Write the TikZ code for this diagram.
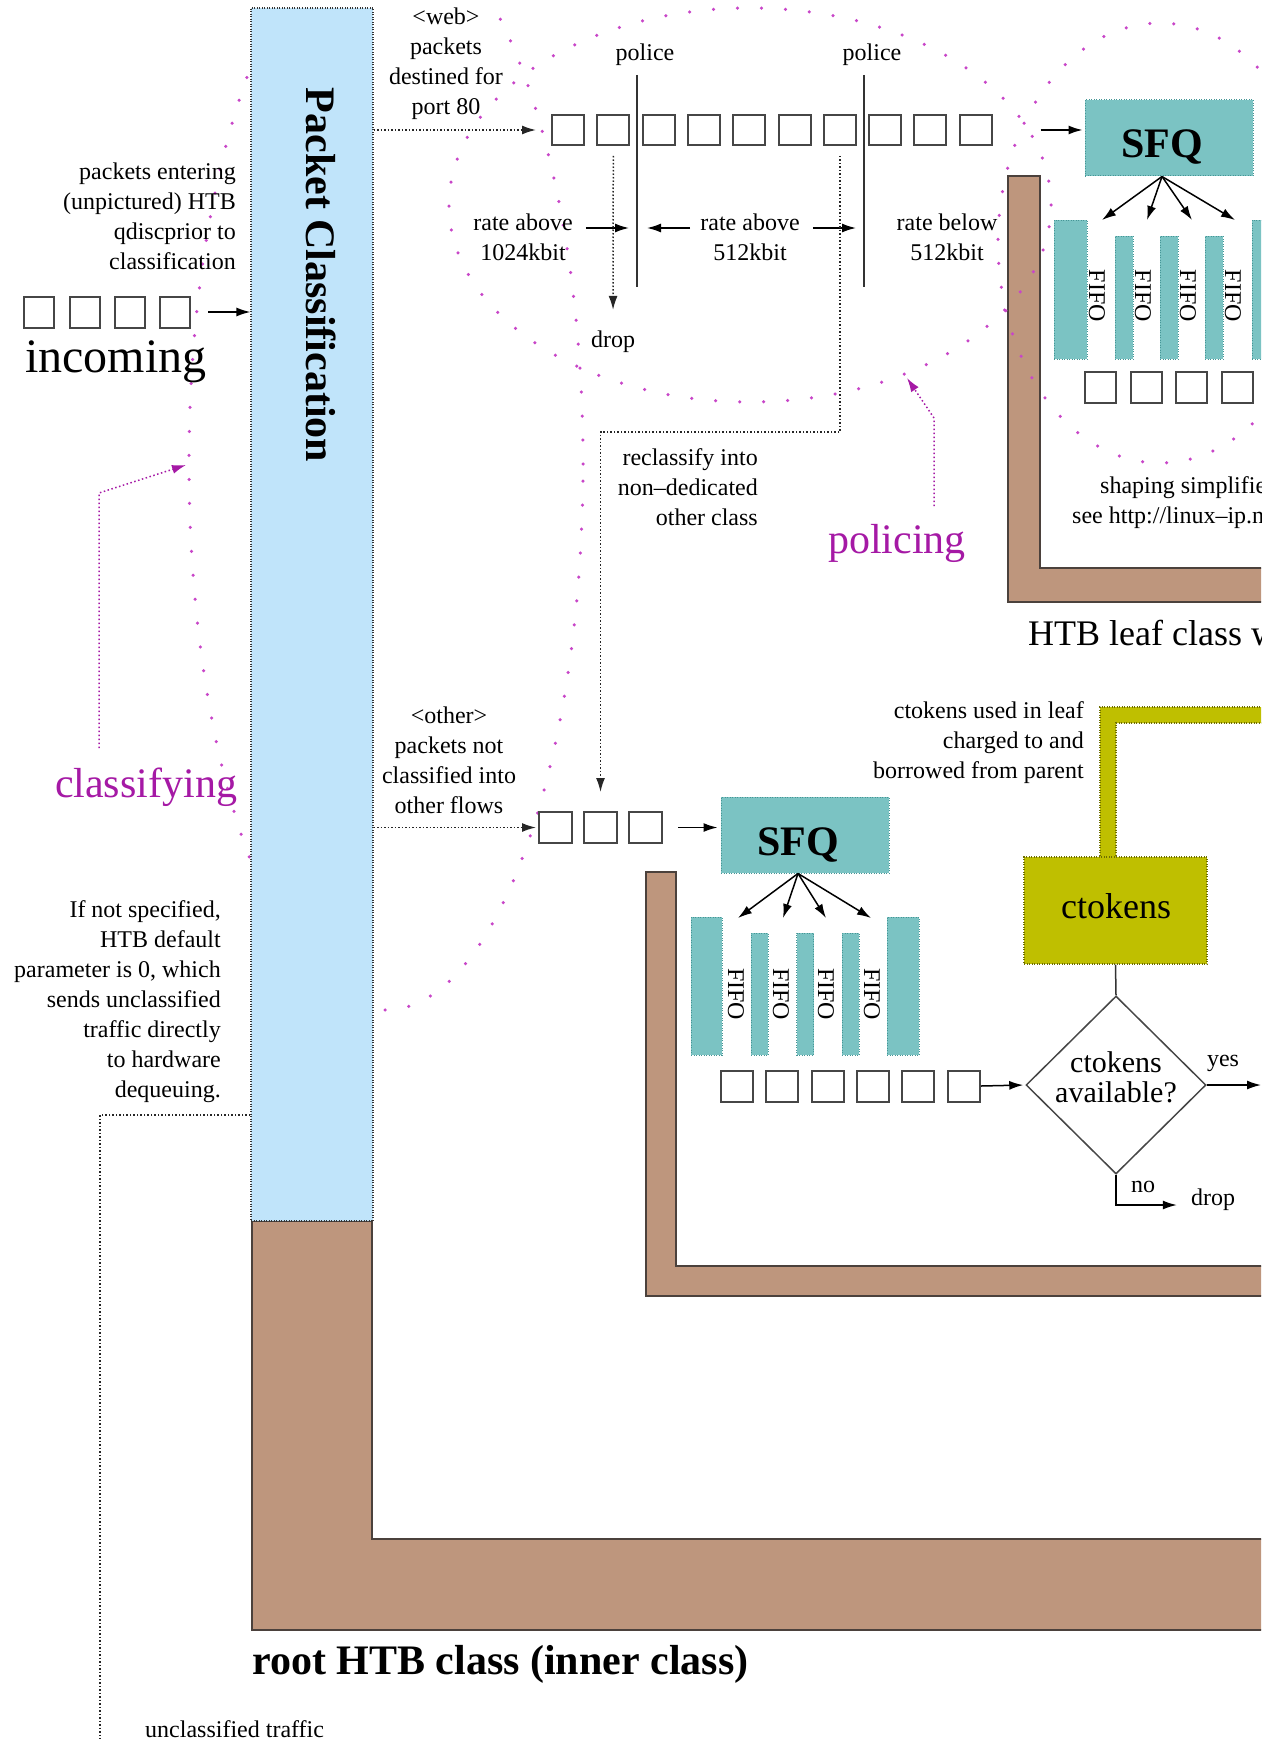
\documentclass[tikz,border=0pt]{standalone}
\usepackage{fontspec}
\setmainfont{Liberation Serif}
\usetikzlibrary{arrows.meta,shapes.geometric,calc}

\definecolor{clsblue}{RGB}{192,228,250}
\definecolor{htbbrown}{RGB}{190,150,125}
\definecolor{edgebrown}{RGB}{75,65,60}
\definecolor{sfqteal}{RGB}{123,195,195}
\definecolor{tealedge}{RGB}{70,150,150}
\definecolor{tokolive}{RGB}{191,191,0}
\definecolor{oliveedge}{RGB}{110,110,0}
\definecolor{dotmag}{RGB}{200,70,200}
\definecolor{labmag}{RGB}{165,25,165}
\definecolor{pktgray}{RGB}{70,70,70}

\begin{document}
\begin{tikzpicture}[x=1pt,y=-1pt,
  small/.style={inner sep=0pt, font=\fontsize{24}{30}\selectfont},
  mid/.style={inner sep=0pt, font=\fontsize{30}{30}\selectfont},
  big/.style={inner sep=0pt, font=\fontsize{36}{36}\selectfont},
  bigbold/.style={inner sep=0pt, font=\bfseries\fontsize{42}{42}\selectfont},
  maglabel/.style={inner sep=0pt, text=labmag, font=\fontsize{42}{42}\selectfont},
  pkt/.style={draw=pktgray, line width=2pt, fill=white, minimum width=32pt, minimum height=31pt, inner sep=0pt},
  fifo/.style={fill=sfqteal, draw=tealedge, line width=1pt, dash pattern=on 1pt off 1.5pt, inner sep=0pt},
  fifolab/.style={small, rotate=-90},
  sfqbox/.style={fifo, minimum width=168pt, minimum height=76pt},
  frame/.style={fill=htbbrown, draw=edgebrown, line width=1.8pt, line join=miter},
  mdots/.style={draw=dotmag, line width=3.5pt, line cap=round, dash pattern=on 0pt off 24pt},
  arr/.style={draw=black, line width=1.5pt, -{Latex[length=14pt,width=9pt]}},
  dline/.style={draw=black!85, line width=1.5pt, dash pattern=on 1.5pt off 2pt},
  darr/.style={dline, -{Latex[length=14pt,width=9pt]}},
  marr/.style={draw=labmag, line width=1.5pt, dash pattern=on 1.5pt off 2.5pt, -{Latex[length=14pt,width=9pt]}},
  thinline/.style={draw=black!80, line width=1.3pt}
]
\useasboundingbox (0,0) rectangle (1261,1739);
\clip (0,0) rectangle (1261,1739);

% classification region, partly hidden by the classifier
\draw[mdots] (386,464) ellipse [x radius=197pt, y radius=546pt];

% root class and leaf class frames
\draw[frame] (252,1221) -- (372,1221) -- (372,1539) -- (1290,1539) -- (1290,1630) -- (252,1630) -- cycle;
\draw[frame] (1008,176) -- (1040,176) -- (1040,568) -- (1290,568) -- (1290,602) -- (1008,602) -- cycle;
\draw[frame] (646,872) -- (676,872) -- (676,1266) -- (1290,1266) -- (1290,1296) -- (646,1296) -- cycle;

% classifier
\node[fill=clsblue, draw=black!80, line width=1.2pt, dash pattern=on 1pt off 1.5pt,
      minimum width=122pt, minimum height=1213pt, inner sep=0pt] (pc) at (312,614.5) {};
\node[bigbold, rotate=-90] (pctxt) at (321,275) {Packet Classification};

% ctokens borrowed from the parent
\draw[fill=tokolive, draw=oliveedge, line width=1.2pt, dash pattern=on 1pt off 1.5pt]
  (1100,858) -- (1100,707) -- (1290,707) -- (1290,723) -- (1116,723) -- (1116,858);
\node[fill=tokolive, draw=oliveedge, line width=1.2pt, dash pattern=on 1pt off 1.5pt,
      minimum width=183pt, minimum height=107pt, inner sep=0pt] (ct) at (1115.5,910.5) {};
\node[big] (cttxt) at (1116,906) {ctokens};

% policing and shaping regions
\draw[mdots] (750,205) ellipse [x radius=301pt, y radius=197pt];
\draw[mdots] (1160,243) ellipse [x radius=162pt, y radius=220pt];

% incoming packets
\foreach \i/\x in {1/39,2/85,3/130,4/175}
  \node[pkt, minimum width=30pt] (in\i) at (\x,312) {};
\node[inner sep=0pt, font=\fontsize{48}{48}\selectfont] (incoming) at (116,362) {incoming};
\draw[arr, shorten <=17pt] (in4.east) -- (pc.west |- in4.east);

\node[small, align=right, anchor=east] (entering) at (236,216)
  {packets entering\\(unpictured) HTB\\qdiscprior to\\classification};

% web flow with policers
\node[small, align=center] (web) at (446,64) {\textless web\textgreater\\packets\\destined for\\port 80};
\foreach \i/\x in {1/568,2/613.3,3/658.6,4/703.9,5/749.2,6/794.5,7/839.8,8/885.1,9/930.4,10/975.7}
  \node[pkt, minimum height=30pt] (p\i) at (\x,130) {};
\draw[darr, shorten >=15pt] (pc.east |- p1.west) -- (p1.west);

\coordinate (pl1) at (637,75);  \coordinate (pl1b) at (637,287);
\coordinate (pl2) at (864,75);  \coordinate (pl2b) at (864,287);
\draw[thinline] (pl1) -- (pl1b);
\draw[thinline] (pl2) -- (pl2b);
\node[small] (pol1) at (645,55) {police};
\node[small] (pol2) at (872,55) {police};

\node[small, align=center] (r1) at (523,237) {rate above\\1024kbit};
\node[small, align=center] (r2) at (750,237) {rate above\\512kbit};
\node[small, align=center] (r3) at (947,237) {rate below\\512kbit};
\coordinate (ra) at (0,228);
\draw[arr, shorten <=13pt, shorten >=8pt] (r1.east |- ra) -- (pl1 |- ra);
\draw[arr, shorten <=10pt, shorten >=10pt] (r2.west |- ra) -- (pl1 |- ra);
\draw[arr, shorten <=13pt, shorten >=8pt] (r2.east |- ra) -- (pl2 |- ra);

\node[small] (drop1) at (613,342) {drop};
\draw[darr, shorten <=10pt, shorten >=21pt] (p2.south) -- (drop1.north);

% reclassification into the other class
\node[small, align=right, anchor=east] (recl) at (758,487) {reclassify into\\non–dedicated\\other class};
\coordinate (rcy) at (0,432);

% policing label
\node[maglabel] (policing) at (897,543) {policing};
\coordinate (pa1) at (934,506); \coordinate (pa2) at (934,418); \coordinate (pa3) at (907,378);
\draw[marr] (pa1) -- (pa2) -- (pa3);

% classifying label
\node[maglabel] (classifying) at (146,787) {classifying};
\coordinate (ca1) at (99,748); \coordinate (ca2) at (99,493); \coordinate (ca3) at (186,465);
\draw[marr] (ca1) -- (ca2) -- (ca3);

% leaf class for web traffic
\node[sfqbox] (sfq1) at (1169,138) {};
\node[bigbold] (sfq1txt) at (1162,147) {SFQ};
\draw[arr, shorten <=48pt, shorten >=2pt] (p10.east) -- (sfq1.west |- p10.east);
\node[fifo, minimum width=33pt, minimum height=139pt] (fa0) at (1070.5,289.5) {};
\node[fifo, minimum width=18pt, minimum height=123pt] (fa1) at (1124,297.5) {};
\node[fifo, minimum width=18pt, minimum height=123pt] (fa2) at (1169,297.5) {};
\node[fifo, minimum width=18pt, minimum height=123pt] (fa3) at (1214,297.5) {};
\node[fifo, minimum width=33pt, minimum height=139pt] (fa4) at (1268.5,289.5) {};
\foreach \i/\x in {1/1097,2/1143,3/1188,4/1233} {
  \node[fifolab] (fla\i) at (\x,296) {FIFO};
}
\coordinate (fan1) at ($(sfq1.south)+(-7,0)$);
\foreach \i/\x in {1/1102,2/1147,3/1192,4/1235} {
  \coordinate (ta\i) at (\x,220);
  \draw[arr] (fan1) -- (ta\i);
}
\foreach \i/\x in {1/1100,2/1146,3/1191,4/1237}
  \node[pkt, minimum width=31pt] (sa\i) at (\x,387.5) {};
\node[small, anchor=west] (shp1) at (1100,488) {shaping simplified};
\node[small, anchor=west] (shp2) at (1072,518) {see http://linux–ip.net};
\node[big, anchor=west] (leaftl) at (1028,633) {HTB leaf class with};

% other traffic
\node[small, align=center] (other) at (449,760) {\textless other\textgreater\\packets not\\classified into\\other flows};
\foreach \i/\x in {1/555.5,2/600.5,3/645.5}
  \node[pkt, minimum width=33pt] (o\i) at (\x,827.5) {};
\draw[darr, shorten >=2pt] (pc.east |- o1.west) -- (o1.west);
\draw[darr, shorten <=10pt, shorten >=19pt] (p7.south) -- (p7.south |- rcy) -- (o2.north |- rcy) -- (o2.north);

\node[sfqbox] (sfq2) at (805,835) {};
\node[bigbold] (sfq2txt) at (798,845) {SFQ};
\draw[arr, shorten <=15pt, shorten >=3pt] (o3.east) -- (sfq2.west |- o3.east);
\node[fifo, minimum width=31pt, minimum height=138pt] (fb0) at (706.5,986) {};
\node[fifo, minimum width=17pt, minimum height=122pt] (fb1) at (759.5,994) {};
\node[fifo, minimum width=17pt, minimum height=122pt] (fb2) at (805,994) {};
\node[fifo, minimum width=17pt, minimum height=122pt] (fb3) at (850.5,994) {};
\node[fifo, minimum width=32pt, minimum height=138pt] (fb4) at (903,986) {};
\foreach \i/\x in {1/736,2/781,3/826,4/872} {
  \node[fifolab] (flb\i) at (\x,994) {FIFO};
}
\coordinate (fan2) at ($(sfq2.south)+(-7,0)$);
\foreach \i/\x in {1/738,2/783,3/826,4/871} {
  \coordinate (tb\i) at (\x,918);
  \draw[arr] (fan2) -- (tb\i);
}
\foreach \i/\x in {1/736.5,2/782,3/827.5,4/872.5,5/918,6/964}
  \node[pkt] (sb\i) at (\x,1086) {};

% ctokens check
\node[diamond, draw=pktgray, line width=1.5pt, minimum width=180pt, minimum height=178pt, inner sep=0pt] (dia) at (1116,1085) {};
\node[mid, align=center] (diatxt) at (1116,1077) {ctokens\\available?};
\draw[arr, shorten >=2pt] (sb6.east) -- (dia.west);
\draw[thinline, line width=1.5pt] (ct.south) -- (dia.north);
\node[small, align=right, anchor=east] (borrow) at (1084,743) {ctokens used in leaf\\charged to and\\borrowed from parent};
\coordinate (yesend) at (1261,1085);
\draw[arr] (dia.east) -- (yesend);
\node[small] (yes) at (1223,1063) {yes};
\node[small] (no) at (1143,1187) {no};
\node[small] (drop2) at (1213,1200) {drop};
\coordinate (nocorner) at (1116,1205);
\draw[arr, shorten >=14pt] (dia.south) -- (nocorner) -- (nocorner -| drop2.west);

% unclassified traffic
\node[small, align=right, anchor=east] (dflt) at (221,1002)
  {If not specified,\\HTB default\\parameter is 0, which\\sends unclassified\\traffic directly\\to hardware\\dequeuing.};
\coordinate (ucy) at (100,1115);
\coordinate (ucbot) at (100,1760);
\draw[dline] (pc.west |- ucy) -- (ucy) -- (ucbot);
\node[small, anchor=west] (uctxt) at (145,1729) {unclassified traffic};

\node[bigbold, anchor=west] (roottl) at (252,1664) {root HTB class (inner class)};
\end{tikzpicture}
\end{document}
